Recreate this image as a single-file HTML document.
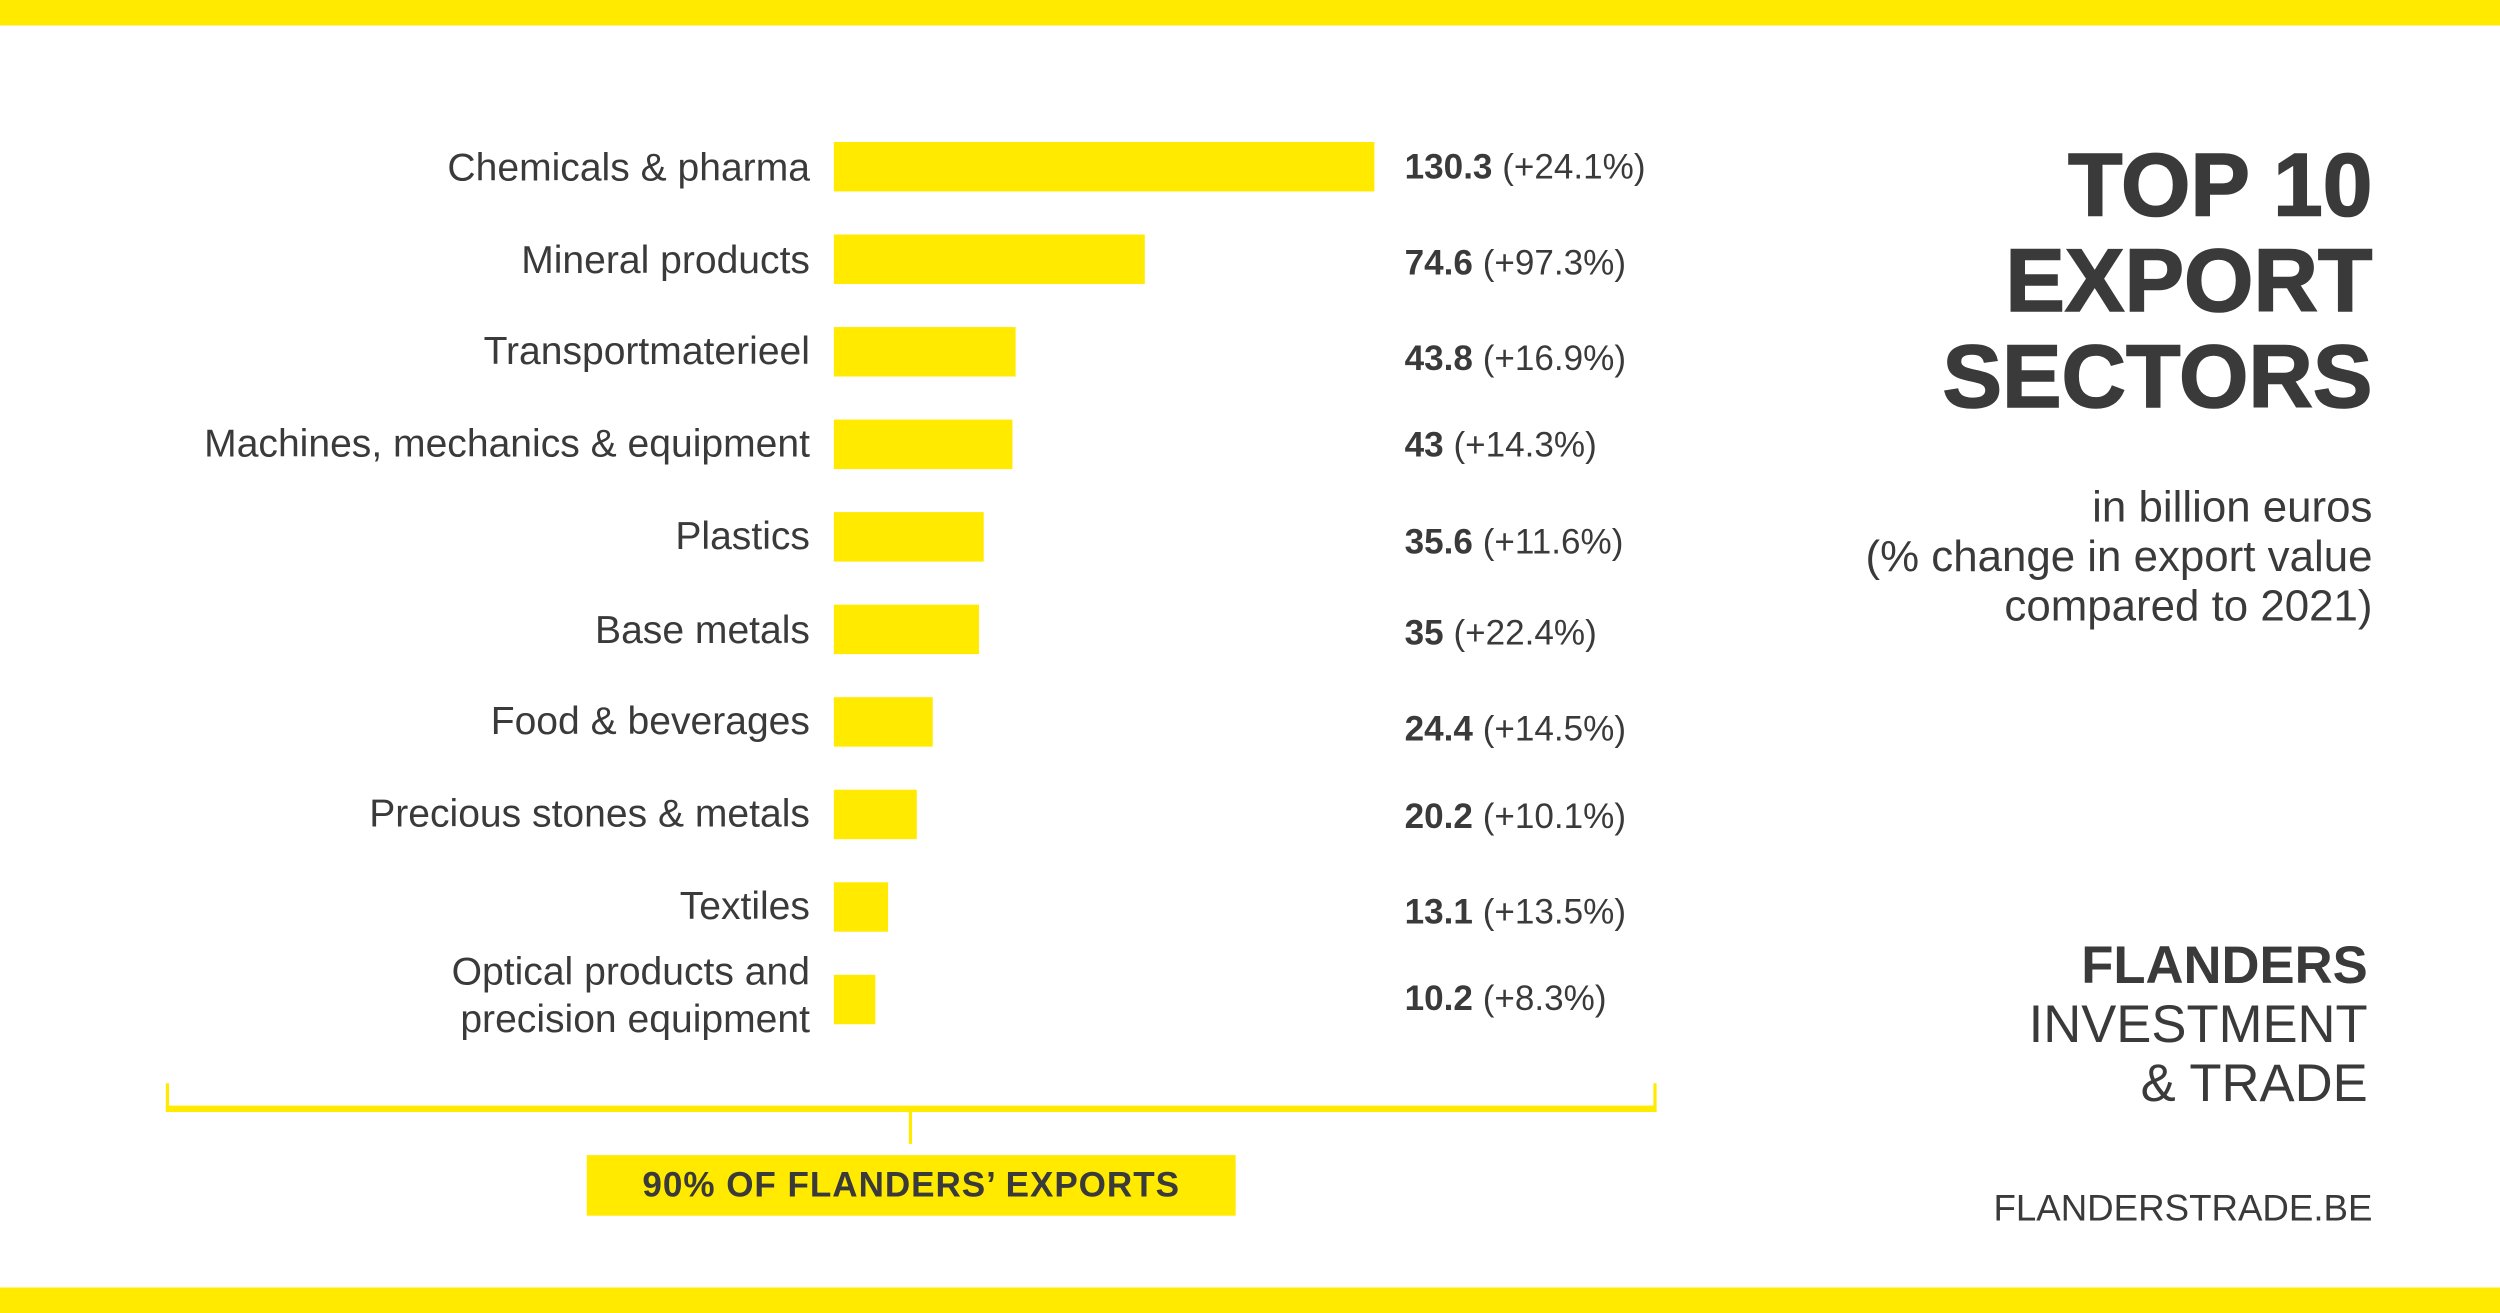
<!DOCTYPE html>
<html><head><meta charset="utf-8"><style>
html,body{margin:0;padding:0;background:#fff;}
body{width:2500px;height:1313px;overflow:hidden;position:relative;}
#s{position:absolute;left:0;top:0;width:1568px;height:823px;transform:scale(1.5944,1.5954);transform-origin:0 0;font-family:"Liberation Sans",sans-serif;color:#3a3a3a;}
.y{position:absolute;background:#FFEA00;}
.l{position:absolute;right:1060px;font-size:24.5px;line-height:30px;text-align:right;white-space:nowrap;transform:translateY(-50%);}
.v{position:absolute;left:881px;font-size:22px;white-space:nowrap;transform:translateY(-50%);line-height:26px;}
.v b{font-weight:bold;}
.r{position:absolute;right:80px;text-align:right;white-space:nowrap;}
</style></head><body><div id="s">
<div class="y" style="left:0;top:0;width:1568px;height:16px"></div>
<div class="y" style="left:0;top:807px;width:1568px;height:16px"></div>

<div class="y" style="left:523px;top:89px;width:339px;height:31px"></div>
<div class="y" style="left:523px;top:147px;width:195px;height:31px"></div>
<div class="y" style="left:523px;top:205px;width:114px;height:31px"></div>
<div class="y" style="left:523px;top:263px;width:112px;height:31px"></div>
<div class="y" style="left:523px;top:321px;width:94px;height:31px"></div>
<div class="y" style="left:523px;top:379px;width:91px;height:31px"></div>
<div class="y" style="left:523px;top:437px;width:62px;height:31px"></div>
<div class="y" style="left:523px;top:495px;width:52px;height:31px"></div>
<div class="y" style="left:523px;top:553px;width:34px;height:31px"></div>
<div class="y" style="left:523px;top:611px;width:26px;height:31px"></div>

<div class="l" style="top:106px">Chemicals &amp; pharma</div>
<div class="l" style="top:164px">Mineral products</div>
<div class="l" style="top:221px">Transportmaterieel</div>
<div class="l" style="top:279px">Machines, mechanics &amp; equipment</div>
<div class="l" style="top:337px">Plastics</div>
<div class="l" style="top:396px">Base metals</div>
<div class="l" style="top:453px">Food &amp; beverages</div>
<div class="l" style="top:511px">Precious stones &amp; metals</div>
<div class="l" style="top:569px">Textiles</div>
<div class="l" style="top:625px">Optical products and<br>precision equipment</div>

<div class="v" style="top:105px"><b>130.3</b> (+24.1%)</div>
<div class="v" style="top:165px"><b>74.6</b> (+97.3%)</div>
<div class="v" style="top:225px"><b>43.8</b> (+16.9%)</div>
<div class="v" style="top:279px"><b>43</b> (+14.3%)</div>
<div class="v" style="top:340px"><b>35.6</b> (+11.6%)</div>
<div class="v" style="top:397px"><b>35</b> (+22.4%)</div>
<div class="v" style="top:457px"><b>24.4</b> (+14.5%)</div>
<div class="v" style="top:512px"><b>20.2</b> (+10.1%)</div>
<div class="v" style="top:572px"><b>13.1</b> (+13.5%)</div>
<div class="v" style="top:626px"><b>10.2</b> (+8.3%)</div>

<div class="y" style="left:104px;top:693px;width:935px;height:4px"></div>
<div class="y" style="left:104px;top:679px;width:2px;height:16px"></div>
<div class="y" style="left:1037px;top:679px;width:2px;height:16px"></div>
<div class="y" style="left:570px;top:696px;width:2px;height:21px"></div>
<div class="y" style="left:368px;top:724px;width:407px;height:38px;font-weight:bold;font-size:22px;letter-spacing:0.6px;line-height:38px;text-align:center;color:#3a3a3a">90% OF FLANDERS’ EXPORTS</div>

<div class="r" style="top:86px;font-size:56px;font-weight:bold;line-height:60px;-webkit-text-stroke:1px #3a3a3a">TOP 10<br>EXPORT<br>SECTORS</div>
<div class="r" style="top:302px;font-size:27.5px;line-height:31px">in billion euros<br>(% change in export value<br>compared to 2021)</div>
<div class="r" style="top:586px;right:83px;font-size:33px;line-height:37px"><b>FLANDERS</b><br>INVESTMENT<br>&amp; TRADE</div>
<div class="r" style="top:742px;font-size:23px;line-height:30px">FLANDERSTRADE.BE</div>
</div></body></html>
